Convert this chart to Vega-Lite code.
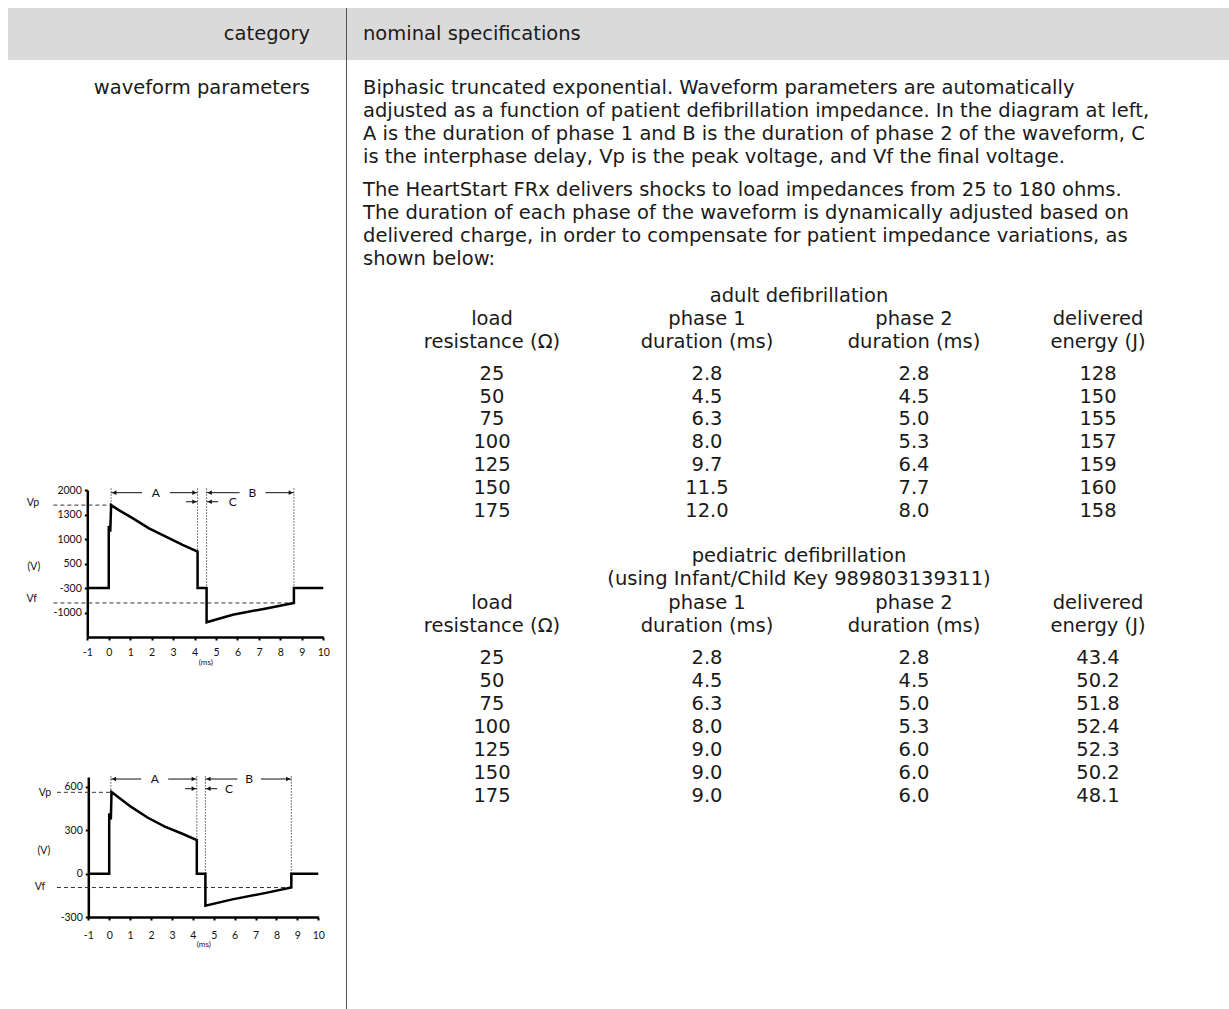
{
  "$schema": "https://vega.github.io/schema/vega-lite/v6.json",
  "background": "white",
  "padding": {"left": 8, "top": 8, "right": 0, "bottom": 0},
  "config": {
    "view": {"stroke": null},
    "font": "Lato",
    "text": {"font": "DejaVu Sans", "fontSize": 19.5, "color": "#1a1a1a"},
    "axis": {"labelFont": "Lato", "titleFont": "Lato", "labelColor": "#111", "titleColor": "#111", "domainColor": "#000", "tickColor": "#000", "grid": false, "labelFlush": false, "labelOverlap": false}
  },
  "datasets": {
    "heads": [
      {"col": "load", "line": 1, "text": "load"},
      {"col": "load", "line": 2, "text": "resistance (Ω)"},
      {"col": "phase1", "line": 1, "text": "phase 1"},
      {"col": "phase1", "line": 2, "text": "duration (ms)"},
      {"col": "phase2", "line": 1, "text": "phase 2"},
      {"col": "phase2", "line": 2, "text": "duration (ms)"},
      {"col": "energy", "line": 1, "text": "delivered"},
      {"col": "energy", "line": 2, "text": "energy (J)"}
    ],
    "adult": [
      {"load": 25, "phase1": 2.8, "phase2": 2.8, "energy": 128},
      {"load": 50, "phase1": 4.5, "phase2": 4.5, "energy": 150},
      {"load": 75, "phase1": 6.3, "phase2": 5.0, "energy": 155},
      {"load": 100, "phase1": 8.0, "phase2": 5.3, "energy": 157},
      {"load": 125, "phase1": 9.7, "phase2": 6.4, "energy": 159},
      {"load": 150, "phase1": 11.5, "phase2": 7.7, "energy": 160},
      {"load": 175, "phase1": 12.0, "phase2": 8.0, "energy": 158}
    ],
    "ped": [
      {"load": 25, "phase1": 2.8, "phase2": 2.8, "energy": 43.4},
      {"load": 50, "phase1": 4.5, "phase2": 4.5, "energy": 50.2},
      {"load": 75, "phase1": 6.3, "phase2": 5.0, "energy": 51.8},
      {"load": 100, "phase1": 8.0, "phase2": 5.3, "energy": 52.4},
      {"load": 125, "phase1": 9.0, "phase2": 6.0, "energy": 52.3},
      {"load": 150, "phase1": 9.0, "phase2": 6.0, "energy": 50.2},
      {"load": 175, "phase1": 9.0, "phase2": 6.0, "energy": 48.1}
    ],
    "wave1": [
      {"i": 0, "ms": -1, "v": -300}, {"i": 1, "ms": 0, "v": -300}, {"i": 2, "ms": 0, "v": 1160},
      {"i": 3, "ms": 0.07, "v": 1089}, {"i": 4, "ms": 0.11, "v": 1568}, {"i": 5, "ms": 0.47, "v": 1425},
      {"i": 6, "ms": 1.09, "v": 1259}, {"i": 7, "ms": 1.875, "v": 1130}, {"i": 8, "ms": 2.66, "v": 1028},
      {"i": 9, "ms": 3.44, "v": 878}, {"i": 10, "ms": 4.14, "v": 743}, {"i": 11, "ms": 4.14, "v": -300},
      {"i": 12, "ms": 4.56, "v": -300}, {"i": 13, "ms": 4.56, "v": -1280}, {"i": 14, "ms": 5.78, "v": -1065},
      {"i": 15, "ms": 7.34, "v": -883}, {"i": 16, "ms": 8.63, "v": -728}, {"i": 17, "ms": 8.63, "v": -300},
      {"i": 18, "ms": 10, "v": -300}
    ],
    "dash1": [{"ms": -2.58, "ms2": 0.11, "v": 1568}, {"ms": -2.58, "ms2": 8.63, "v": -728}],
    "dot1": [
      {"ms": 0.11, "v": 2050, "v2": 1568}, {"ms": 4.14, "v": 2050, "v2": 743},
      {"ms": 4.56, "v": 2050, "v2": -300}, {"ms": 8.63, "v": 2050, "v2": -728}
    ],
    "dim1": [
      {"ms": 0.11, "ms2": 1.55, "v": 1923}, {"ms": 2.85, "ms2": 4.14, "v": 1923},
      {"ms": 4.56, "ms2": 6.1, "v": 1923}, {"ms": 7.3, "ms2": 8.63, "v": 1923},
      {"ms": 3.6, "ms2": 4.14, "v": 1664}, {"ms": 4.56, "ms2": 5.1, "v": 1664}
    ],
    "arrow1": [
      {"ms": 0.26, "v": 1923, "dir": "left"}, {"ms": 3.99, "v": 1923, "dir": "right"},
      {"ms": 4.71, "v": 1923, "dir": "left"}, {"ms": 8.48, "v": 1923, "dir": "right"},
      {"ms": 3.99, "v": 1664, "dir": "right"}, {"ms": 4.71, "v": 1664, "dir": "left"}
    ],
    "lab1": [{"ms": 2.19, "v": 1923, "t": "A"}, {"ms": 6.69, "v": 1923, "t": "B"}, {"ms": 5.78, "v": 1664, "t": "C"}],
    "side1": [{"ms": -3.53, "v": 1625, "t": "Vp"}, {"ms": -3.59, "v": -620, "t": "Vf"}],
    "wave2": [
      {"i": 0, "ms": -1, "v": 0}, {"i": 1, "ms": 0, "v": 0}, {"i": 2, "ms": 0, "v": 417},
      {"i": 3, "ms": 0.08, "v": 375}, {"i": 4, "ms": 0.11, "v": 565}, {"i": 5, "ms": 1.05, "v": 462},
      {"i": 6, "ms": 1.85, "v": 387}, {"i": 7, "ms": 2.66, "v": 325}, {"i": 8, "ms": 3.47, "v": 278},
      {"i": 9, "ms": 4.19, "v": 233}, {"i": 10, "ms": 4.19, "v": 0}, {"i": 11, "ms": 4.6, "v": 0},
      {"i": 12, "ms": 4.6, "v": -222}, {"i": 13, "ms": 5.89, "v": -178}, {"i": 14, "ms": 7.5, "v": -133},
      {"i": 15, "ms": 8.71, "v": -96}, {"i": 16, "ms": 8.71, "v": 0}, {"i": 17, "ms": 10, "v": 0}
    ],
    "dash2": [{"ms": -2.5, "ms2": 0.11, "v": 563}, {"ms": -2.5, "ms2": 8.71, "v": -96}],
    "dot2": [
      {"ms": 0.08, "v": 675, "v2": 565}, {"ms": 4.19, "v": 675, "v2": 233},
      {"ms": 4.6, "v": 675, "v2": 0}, {"ms": 8.71, "v": 675, "v2": -96}
    ],
    "dim2": [
      {"ms": 0.08, "ms2": 1.53, "v": 655}, {"ms": 2.82, "ms2": 4.19, "v": 655},
      {"ms": 4.6, "ms2": 6.13, "v": 655}, {"ms": 7.26, "ms2": 8.71, "v": 655},
      {"ms": 3.63, "ms2": 4.19, "v": 588}, {"ms": 4.6, "ms2": 5.16, "v": 588}
    ],
    "arrow2": [
      {"ms": 0.23, "v": 655, "dir": "left"}, {"ms": 4.04, "v": 655, "dir": "right"},
      {"ms": 4.75, "v": 655, "dir": "left"}, {"ms": 8.56, "v": 655, "dir": "right"},
      {"ms": 4.04, "v": 588, "dir": "right"}, {"ms": 4.75, "v": 588, "dir": "left"}
    ],
    "lab2": [{"ms": 2.18, "v": 655, "t": "A"}, {"ms": 6.69, "v": 655, "t": "B"}, {"ms": 5.73, "v": 588, "t": "C"}],
    "side2": [{"ms": -3.07, "v": 560, "t": "Vp"}, {"ms": -3.31, "v": -95, "t": "Vf"}]
  },
  "hconcat": [
    {
      "vconcat": [
        {
          "width": 338, "height": 52,
          "view": {"fill": "#dadada", "stroke": null},
          "data": {"values": [{"label": "category"}]},
          "mark": {"type": "text", "align": "right", "dx": -36},
          "encoding": {"x": {"value": "width"}, "text": {"field": "label"}}
        },
        {
          "width": 338, "height": 56,
          "data": {"values": [{"label": "waveform parameters"}]},
          "mark": {"type": "text", "align": "right", "dx": -36},
          "encoding": {"x": {"value": "width"}, "text": {"field": "label"}}
        },
        {
          "width": 338, "height": 521,
          "encoding": {
            "x": {"field": "ms", "type": "quantitative",
              "scale": {"domain": [-1, 10], "range": [79.3, 315.3], "nice": false, "zero": false},
              "axis": {"values": [-1, 0, 1, 2, 3, 4, 5, 6, 7, 8, 9, 10], "labelExpr": "'' + datum.value", "domainWidth": 2.5, "tickWidth": 2, "tickSize": 3, "labelFontSize": 10.5, "labelPadding": 7, "title": "(ms)", "titleFontSize": 8, "titleFontWeight": "normal", "titlePadding": 1}},
            "y": {"field": "v", "type": "quantitative",
              "scale": {"domain": [-1700, -1000, -300, 500, 1000, 1300, 2000], "range": [521, 496.5, 472, 447.5, 423, 398.5, 374], "nice": false, "zero": false},
              "axis": {"values": [-1000, -300, 500, 1000, 1300, 2000], "labelExpr": "'' + datum.value", "offset": -79.3, "domainWidth": 2.5, "tickWidth": 2, "tickSize": 3, "labelFontSize": 10.5, "labelPadding": 3, "title": "(V)", "titleAngle": 0, "titleX": -54, "titleY": 450.7, "titleAlign": "center", "titleBaseline": "middle", "titleFontSize": 10.5, "titleFontWeight": "normal"}}
          },
          "layer": [
            {"data": {"name": "dash1"}, "mark": {"type": "rule", "strokeDash": [4, 3], "color": "#333", "strokeWidth": 1}, "encoding": {"x2": {"field": "ms2"}}},
            {"data": {"name": "dot1"}, "mark": {"type": "rule", "strokeDash": [1.5, 1.5], "color": "#555", "strokeWidth": 1}, "encoding": {"y2": {"field": "v2"}}},
            {"data": {"name": "dim1"}, "mark": {"type": "rule", "color": "#111", "strokeWidth": 1}, "encoding": {"x2": {"field": "ms2"}}},
            {"data": {"name": "arrow1"}, "mark": {"type": "point", "filled": true, "color": "#111", "size": 22, "opacity": 1}, "encoding": {"shape": {"field": "dir", "type": "nominal", "scale": {"domain": ["left", "right"], "range": ["triangle-left", "triangle-right"]}, "legend": null}}},
            {"data": {"name": "lab1"}, "mark": {"type": "text", "font": "Lato", "fontSize": 12, "color": "#111"}, "encoding": {"text": {"field": "t"}}},
            {"data": {"name": "side1"}, "mark": {"type": "text", "font": "Lato", "fontSize": 10.5, "color": "#111"}, "encoding": {"text": {"field": "t"}}},
            {"data": {"name": "wave1"}, "mark": {"type": "line", "color": "#000", "strokeWidth": 2.5}, "encoding": {"order": {"field": "i"}}}
          ]
        },
        {
          "width": 338, "height": 280,
          "encoding": {
            "x": {"field": "ms", "type": "quantitative",
              "scale": {"domain": [-1, 10], "range": [80.3, 310.3], "nice": false, "zero": false},
              "axis": {"values": [-1, 0, 1, 2, 3, 4, 5, 6, 7, 8, 9, 10], "labelExpr": "'' + datum.value", "domainWidth": 2.5, "tickWidth": 2, "tickSize": 3, "labelFontSize": 10.5, "labelPadding": 10, "title": "(ms)", "titleFontSize": 8, "titleFontWeight": "normal", "titlePadding": 0}},
            "y": {"field": "v", "type": "quantitative",
              "scale": {"domain": [-300, 669], "range": [280, 140], "nice": false, "zero": false},
              "axis": {"values": [-300, 0, 300, 600], "labelExpr": "'' + datum.value", "offset": -80.3, "domainWidth": 2.5, "tickWidth": 2, "tickSize": 3, "labelFontSize": 10.5, "labelPadding": 3, "title": "(V)", "titleAngle": 0, "titleX": -45, "titleY": 213, "titleAlign": "center", "titleBaseline": "middle", "titleFontSize": 10.5, "titleFontWeight": "normal"}}
          },
          "layer": [
            {"data": {"name": "dash2"}, "mark": {"type": "rule", "strokeDash": [4, 3], "color": "#333", "strokeWidth": 1}, "encoding": {"x2": {"field": "ms2"}}},
            {"data": {"name": "dot2"}, "mark": {"type": "rule", "strokeDash": [1.5, 1.5], "color": "#555", "strokeWidth": 1}, "encoding": {"y2": {"field": "v2"}}},
            {"data": {"name": "dim2"}, "mark": {"type": "rule", "color": "#111", "strokeWidth": 1}, "encoding": {"x2": {"field": "ms2"}}},
            {"data": {"name": "arrow2"}, "mark": {"type": "point", "filled": true, "color": "#111", "size": 22, "opacity": 1}, "encoding": {"shape": {"field": "dir", "type": "nominal", "scale": {"domain": ["left", "right"], "range": ["triangle-left", "triangle-right"]}, "legend": null}}},
            {"data": {"name": "lab2"}, "mark": {"type": "text", "font": "Lato", "fontSize": 12, "color": "#111"}, "encoding": {"text": {"field": "t"}}},
            {"data": {"name": "side2"}, "mark": {"type": "text", "font": "Lato", "fontSize": 10.5, "color": "#111"}, "encoding": {"text": {"field": "t"}}},
            {"data": {"name": "wave2"}, "mark": {"type": "line", "color": "#000", "strokeWidth": 2.5}, "encoding": {"order": {"field": "i"}}}
          ]
        }
      ],
      "spacing": 0, "bounds": "flush"
    },
    {
      "width": 1, "height": 1001,
      "view": {"fill": "#555555", "stroke": null},
      "data": {"values": []},
      "mark": "text",
      "encoding": {}
    },
    {
      "vconcat": [
        {
          "width": 882, "height": 52,
          "view": {"fill": "#dadada", "stroke": null},
          "data": {"values": [{"label": "nominal specifications"}]},
          "mark": {"type": "text", "align": "left", "dx": 16},
          "encoding": {"x": {"value": 0}, "text": {"field": "label"}}
        },
        {
          "width": 882, "height": 108.5,
          "data": {"values": [
            {"line": 1, "text": "Biphasic truncated exponential. Waveform parameters are automatically"},
            {"line": 2, "text": "adjusted as a function of patient defibrillation impedance. In the diagram at left,"},
            {"line": 3, "text": "A is the duration of phase 1 and B is the duration of phase 2 of the waveform, C"},
            {"line": 4, "text": "is the interphase delay, Vp is the peak voltage, and Vf the final voltage."}
          ]},
          "mark": {"type": "text", "align": "left", "dx": 16},
          "encoding": {"x": {"value": 0}, "y": {"field": "line", "type": "ordinal", "scale": {"type": "point", "padding": 0.8587, "align": 0.7089}, "axis": null}, "text": {"field": "text"}}
        },
        {
          "width": 882, "height": 102,
          "data": {"values": [
            {"line": 1, "text": "The HeartStart FRx delivers shocks to load impedances from 25 to 180 ohms."},
            {"line": 2, "text": "The duration of each phase of the waveform is dynamically adjusted based on"},
            {"line": 3, "text": "delivered charge, in order to compensate for patient impedance variations, as"},
            {"line": 4, "text": "shown below:"}
          ]},
          "mark": {"type": "text", "align": "left", "dx": 16},
          "encoding": {"x": {"value": 0}, "y": {"field": "line", "type": "ordinal", "scale": {"type": "point", "padding": 0.7174, "align": 0.6515}, "axis": null}, "text": {"field": "text"}}
        },
        {
          "width": 882, "height": 36,
          "data": {"values": [{"line": 1, "text": "adult defibrillation"}]},
          "mark": {"type": "text", "dx": 11},
          "encoding": {"y": {"field": "line", "type": "ordinal", "scale": {"type": "point", "align": 0.6806}, "axis": null}, "text": {"field": "text"}}
        },
        {
          "hconcat": [
            {"width": 290, "height": 46, "data": {"name": "heads"}, "transform": [{"filter": "datum.col === 'load'"}], "mark": "text", "encoding": {"y": {"field": "line", "type": "ordinal", "axis": null}, "text": {"field": "text"}}},
            {"width": 140, "height": 46, "data": {"name": "heads"}, "transform": [{"filter": "datum.col === 'phase1'"}], "mark": "text", "encoding": {"y": {"field": "line", "type": "ordinal", "axis": null}, "text": {"field": "text"}}},
            {"width": 274, "height": 46, "data": {"name": "heads"}, "transform": [{"filter": "datum.col === 'phase2'"}], "mark": "text", "encoding": {"y": {"field": "line", "type": "ordinal", "axis": null}, "text": {"field": "text"}}},
            {"width": 94, "height": 46, "data": {"name": "heads"}, "transform": [{"filter": "datum.col === 'energy'"}], "mark": "text", "encoding": {"y": {"field": "line", "type": "ordinal", "axis": null}, "text": {"field": "text"}}}
          ],
          "spacing": 0, "bounds": "flush"
        },
        {
          "hconcat": [
            {"width": 290, "height": 170, "data": {"name": "adult"}, "mark": "text", "encoding": {"y": {"field": "load", "type": "ordinal", "scale": {"type": "point", "padding": 0.6957, "align": 0.6406}, "axis": null}, "text": {"field": "load", "type": "quantitative", "format": "d"}}},
            {"width": 140, "height": 170, "data": {"name": "adult"}, "mark": "text", "encoding": {"y": {"field": "load", "type": "ordinal", "scale": {"type": "point", "padding": 0.6957, "align": 0.6406}, "axis": null}, "text": {"field": "phase1", "type": "quantitative", "format": ".1f"}}},
            {"width": 274, "height": 170, "data": {"name": "adult"}, "mark": "text", "encoding": {"y": {"field": "load", "type": "ordinal", "scale": {"type": "point", "padding": 0.6957, "align": 0.6406}, "axis": null}, "text": {"field": "phase2", "type": "quantitative", "format": ".1f"}}},
            {"width": 94, "height": 170, "data": {"name": "adult"}, "mark": "text", "encoding": {"y": {"field": "load", "type": "ordinal", "scale": {"type": "point", "padding": 0.6957, "align": 0.6406}, "axis": null}, "text": {"field": "energy", "type": "quantitative", "format": "d"}}}
          ],
          "spacing": 0, "bounds": "flush"
        },
        {
          "width": 882, "height": 68,
          "data": {"values": [{"line": 1, "text": "pediatric defibrillation"}, {"line": 2, "text": "(using Infant/Child Key 989803139311)"}]},
          "mark": {"type": "text", "dx": 11},
          "encoding": {"y": {"field": "line", "type": "ordinal", "scale": {"type": "point", "padding": 0.9783, "align": 0.7444}, "axis": null}, "text": {"field": "text"}}
        },
        {
          "hconcat": [
            {"width": 290, "height": 46, "data": {"name": "heads"}, "transform": [{"filter": "datum.col === 'load'"}], "mark": "text", "encoding": {"y": {"field": "line", "type": "ordinal", "axis": null}, "text": {"field": "text"}}},
            {"width": 140, "height": 46, "data": {"name": "heads"}, "transform": [{"filter": "datum.col === 'phase1'"}], "mark": "text", "encoding": {"y": {"field": "line", "type": "ordinal", "axis": null}, "text": {"field": "text"}}},
            {"width": 274, "height": 46, "data": {"name": "heads"}, "transform": [{"filter": "datum.col === 'phase2'"}], "mark": "text", "encoding": {"y": {"field": "line", "type": "ordinal", "axis": null}, "text": {"field": "text"}}},
            {"width": 94, "height": 46, "data": {"name": "heads"}, "transform": [{"filter": "datum.col === 'energy'"}], "mark": "text", "encoding": {"y": {"field": "line", "type": "ordinal", "axis": null}, "text": {"field": "text"}}}
          ],
          "spacing": 0, "bounds": "flush"
        },
        {
          "hconcat": [
            {"width": 290, "height": 171, "data": {"name": "ped"}, "mark": "text", "encoding": {"y": {"field": "load", "type": "ordinal", "scale": {"type": "point", "padding": 0.7174, "align": 0.6515}, "axis": null}, "text": {"field": "load", "type": "quantitative", "format": "d"}}},
            {"width": 140, "height": 171, "data": {"name": "ped"}, "mark": "text", "encoding": {"y": {"field": "load", "type": "ordinal", "scale": {"type": "point", "padding": 0.7174, "align": 0.6515}, "axis": null}, "text": {"field": "phase1", "type": "quantitative", "format": ".1f"}}},
            {"width": 274, "height": 171, "data": {"name": "ped"}, "mark": "text", "encoding": {"y": {"field": "load", "type": "ordinal", "scale": {"type": "point", "padding": 0.7174, "align": 0.6515}, "axis": null}, "text": {"field": "phase2", "type": "quantitative", "format": ".1f"}}},
            {"width": 94, "height": 171, "data": {"name": "ped"}, "mark": "text", "encoding": {"y": {"field": "load", "type": "ordinal", "scale": {"type": "point", "padding": 0.7174, "align": 0.6515}, "axis": null}, "text": {"field": "energy", "type": "quantitative", "format": ".1f"}}}
          ],
          "spacing": 0, "bounds": "flush"
        }
      ],
      "spacing": 0
    }
  ],
  "spacing": 0
}
